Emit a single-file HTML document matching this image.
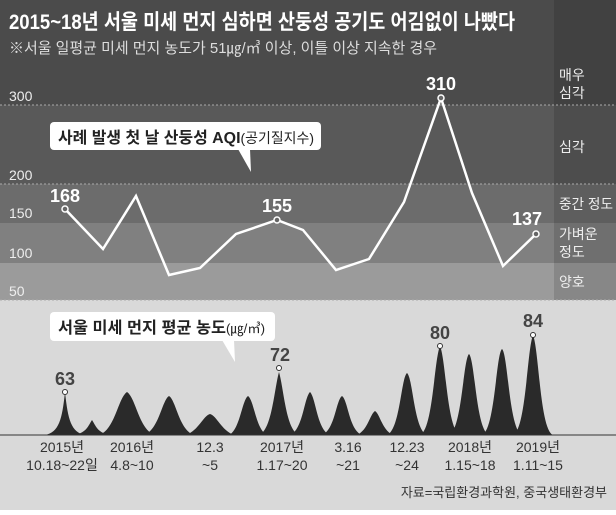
<!DOCTYPE html>
<html><head><meta charset="utf-8"><style>
body{margin:0;width:616px;height:510px;overflow:hidden;font-family:"Liberation Sans","Noto Sans CJK KR",sans-serif}
</style></head><body>
<svg width="616" height="510" xmlns="http://www.w3.org/2000/svg" font-family="Liberation Sans, Noto Sans CJK KR, sans-serif">
<rect x="0" y="0" width="616" height="510" fill="#d9d9d9"/>
<rect x="0" y="0" width="616" height="105" fill="#4b4b4b"/>
<rect x="0" y="105" width="616" height="79" fill="#595959"/>
<rect x="0" y="184" width="616" height="39" fill="#6c6c6c"/>
<rect x="0" y="223" width="616" height="40" fill="#808080"/>
<rect x="0" y="263" width="616" height="37" fill="#9b9b9b"/>
<rect x="554" y="0" width="62" height="300" fill="#000" opacity="0.13"/>
<g stroke="#aaa" stroke-dasharray="2,2" stroke-width="1">
<line x1="0" y1="105" x2="616" y2="105"/><line x1="0" y1="184" x2="616" y2="184"/>
<line x1="0" y1="300" x2="616" y2="300"/></g>
<text x="9" y="29" fill="#fff" font-size="21" font-weight="bold" textLength="506" lengthAdjust="spacingAndGlyphs">2015~18년 서울 미세 먼지 심하면 산둥성 공기도 어김없이 나빴다</text>
<text x="9" y="53" fill="#ddd" font-size="15" textLength="428" lengthAdjust="spacingAndGlyphs">※서울 일평균 미세 먼지 농도가 51㎍/㎥ 이상, 이틀 이상 지속한 경우</text>
<g fill="#eee" font-size="14">
<text x="9" y="101">300</text><text x="9" y="180">200</text><text x="9" y="218">150</text><text x="9" y="258">100</text><text x="9" y="296">50</text>
<text x="559" y="80">매우</text><text x="559" y="98">심각</text><text x="559" y="152">심각</text>
<text x="559" y="209" textLength="54" lengthAdjust="spacingAndGlyphs">중간 정도</text><text x="559" y="239">가벼운</text><text x="559" y="257">정도</text><text x="559" y="287">양호</text>
</g>
<polyline points="65,209 103,249 136,196 169,275 200,268 236,234 277,220 303,230 336,270 369,259 404,202 441,98 472,193 503,266 536,234" fill="none" stroke="#fff" stroke-width="2.5" stroke-linejoin="miter"/>
<g fill="#666" stroke="#fff" stroke-width="1.5"><circle cx="65" cy="209" r="3"/><circle cx="277" cy="220" r="3"/><circle cx="441" cy="98" r="3"/><circle cx="536" cy="234" r="3"/></g>
<g fill="#fff" font-size="18" font-weight="bold" text-anchor="middle"><text x="65" y="202">168</text><text x="277" y="212">155</text><text x="441" y="90">310</text><text x="527" y="225">137</text></g>
<rect x="50" y="122" width="271" height="28" rx="4" fill="#fff"/>
<polygon points="238,149 250,149 251,172" fill="#fff"/>
<text x="58" y="143" font-size="16" font-weight="bold" fill="#222" textLength="256" lengthAdjust="spacingAndGlyphs">사례 발생 첫 날 산둥성 AQI<tspan font-weight="normal" font-size="14">(공기질지수)</tspan></text>
<g fill="#2a2a2a">
<path d="M45,435 C59,432 62,420 65,392 C68,420 71,432 85,435Z"/>
<path d="M75,435 C87,432 88,426 92,420 C96,426 97,432 109,435Z"/>
<path d="M99,435 C115,430 118,398 127,392 C136,398 139,430 155,435Z"/>
<path d="M144,435 C159,430 162,400 169,396 C176,400 179,430 194,435Z"/>
<path d="M186,435 C199,430 203,416 210,414 C217,416 221,430 234,435Z"/>
<path d="M229,435 C240,430 242,400 248,396 C254,400 256,430 267,435Z"/>
<path d="M259,435 C272,430 274,390 279,372 C284,390 286,430 299,435Z"/>
<path d="M290,435 C303,430 304,398 310,392 C316,398 317,430 330,435Z"/>
<path d="M322,435 C335,430 336,400 342,396 C348,400 349,430 362,435Z"/>
<path d="M357,435 C368,430 370,414 375,411 C380,414 382,430 393,435Z"/>
<path d="M387,435 C400,430 401,378 407,373 C413,378 414,430 427,435Z"/>
<path d="M420,435 C433,430 434,360 440,346 C446,360 447,430 460,435Z"/>
<path d="M449,435 C462,430 463,360 469,354 C475,360 476,430 489,435Z"/>
<path d="M482,435 C495,430 496,354 502,349 C508,354 509,430 522,435Z"/>
<path d="M513,435 C526,430 527,350 533,335 C539,350 540,430 553,435Z"/>
</g>
<line x1="0" y1="435" x2="616" y2="435" stroke="#333" stroke-width="1"/>
<g fill="#fff" stroke="#333" stroke-width="1"><circle cx="65" cy="392" r="2.5"/><circle cx="279" cy="368" r="2.5"/><circle cx="440" cy="346" r="2.5"/><circle cx="533" cy="335" r="2.5"/></g>
<g fill="#444" font-size="18" font-weight="bold" text-anchor="middle"><text x="65" y="385">63</text><text x="280" y="361">72</text><text x="440" y="339">80</text><text x="533" y="327">84</text></g>
<rect x="50" y="312" width="225" height="29" rx="4" fill="#fff"/>
<polygon points="222,340 234,340 235,362" fill="#fff"/>
<text x="58" y="333" font-size="16" font-weight="bold" fill="#222" textLength="207" lengthAdjust="spacingAndGlyphs">서울 미세 먼지 평균 농도<tspan font-weight="normal" font-size="13">(㎍/㎥)</tspan></text>
<g fill="#333" font-size="14" text-anchor="middle">
<text x="62" y="452">2015년</text><text x="62" y="470">10.18~22일</text>
<text x="132" y="452">2016년</text><text x="132" y="470">4.8~10</text>
<text x="210" y="452">12.3</text><text x="210" y="470">~5</text>
<text x="282" y="452">2017년</text><text x="282" y="470">1.17~20</text>
<text x="348" y="452">3.16</text><text x="348" y="470">~21</text>
<text x="407" y="452">12.23</text><text x="407" y="470">~24</text>
<text x="470" y="452">2018년</text><text x="470" y="470">1.15~18</text>
<text x="538" y="452">2019년</text><text x="538" y="470">1.11~15</text>
</g>
<text x="607" y="497" fill="#333" font-size="13" text-anchor="end">자료=국립환경과학원, 중국생태환경부</text>
</svg>
</body></html>
